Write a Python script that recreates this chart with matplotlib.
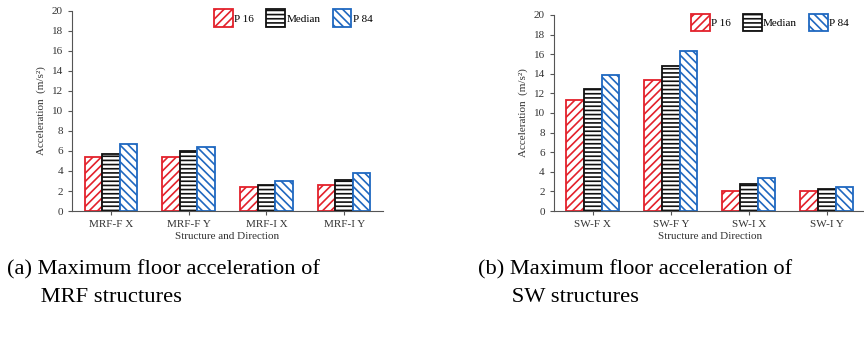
import numpy as np
import matplotlib
matplotlib.use("Agg")
import matplotlib.pyplot as plt

plt.rcParams['font.family'] = ['Liberation Serif', 'DejaVu Serif']
plt.rcParams['hatch.linewidth'] = 1.2

# data
series = ["P 16", "Median", "P 84"]
mrf_labels = ["MRF-F X", "MRF-F Y", "MRF-I X", "MRF-I Y"]
mrf_p16 = [5.4, 5.4, 2.45, 2.65]
mrf_median = [5.7, 6.0, 2.6, 3.05]
mrf_p84 = [6.7, 6.4, 2.95, 3.8]

sw_labels = ["SW-F X", "SW-F Y", "SW-I X", "SW-I Y"]
sw_p16 = [11.35, 13.4, 2.05, 2.05]
sw_median = [12.4, 14.75, 2.75, 2.2]
sw_p84 = [13.9, 16.35, 3.4, 2.45]

colors = ["#e3212b", "#111111", "#1f68c0"]
hatches = ["////", "----", "\\\\\\\\"]

fig = plt.figure(figsize=(8.64, 3.38), dpi=100)
ax1 = fig.add_axes([0.0833, 0.3757, 0.36, 0.592])
ax2 = fig.add_axes([0.641, 0.3757, 0.361, 0.58])


def draw(ax, labels, vals, leg_x):
    x = np.arange(len(labels))
    w = 0.225
    for i, (v, c, h, name) in enumerate(zip(vals, colors, hatches, series)):
        ax.bar(x + (i - 1) * w, v, w, facecolor="white", edgecolor=c,
               hatch=h, linewidth=1.3, label=name)
    ax.set_xlim(-0.5, len(labels) - 0.5)
    ax.set_ylim(0, 20)
    ax.set_yticks(np.arange(0, 21, 2))
    ax.set_xticks(x)
    ax.set_xticklabels(labels)
    for s in ["top", "right"]:
        ax.spines[s].set_visible(False)
    for s in ["left", "bottom"]:
        ax.spines[s].set_color("#555555")
        ax.spines[s].set_linewidth(0.8)
    ax.tick_params(labelsize=8, colors="#555555", labelcolor="#333333",
                   length=3, width=0.8)
    ax.set_xlabel("Structure and Direction", fontsize=8, color="#333333", labelpad=2)
    ax.set_ylabel("Acceleration  (m/s²)", fontsize=8, color="#333333", labelpad=4)
    ax.legend(loc="upper right", ncol=3, frameon=False, fontsize=8,
              handlelength=1.7, handleheight=2.1, handletextpad=0.1,
              columnspacing=1.1, borderaxespad=0.0, bbox_to_anchor=(leg_x, 1.03))


draw(ax1, mrf_labels, [mrf_p16, mrf_median, mrf_p84], 0.98)
draw(ax2, sw_labels, [sw_p16, sw_median, sw_p84], 0.96)

fig.text(0.008, 0.16, "(a) Maximum floor acceleration of\n      MRF structures",
         fontsize=16.2, va="center", ha="left", linespacing=1.6)
fig.text(0.553, 0.16, "(b) Maximum floor acceleration of\n      SW structures",
         fontsize=16.2, va="center", ha="left", linespacing=1.6)

fig.savefig("out.png", dpi=100)
